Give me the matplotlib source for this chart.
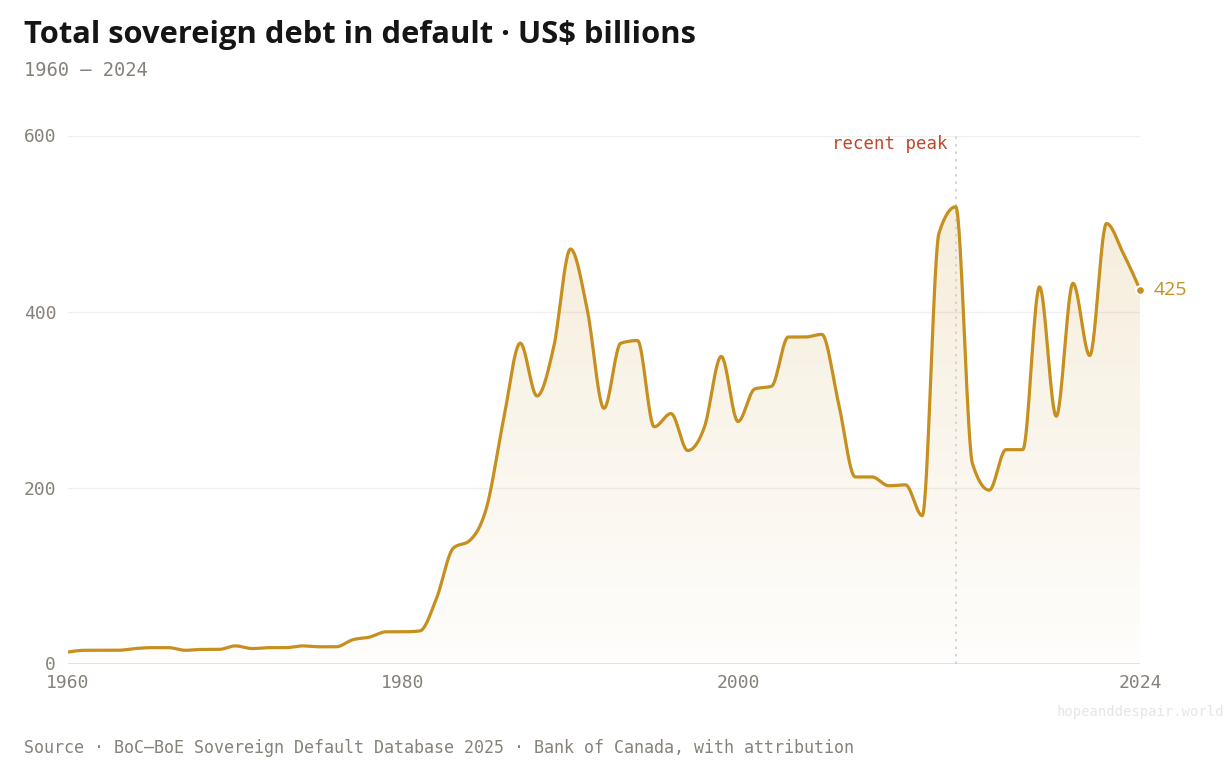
import numpy as np
import matplotlib
matplotlib.use("Agg")
import matplotlib.pyplot as plt
from matplotlib.colors import to_rgb

years = list(range(1960, 2025))
debt = [13, 15, 15, 15, 17, 18, 18, 15, 16, 16,
        20, 17, 18, 18, 20, 19, 19, 27, 30, 36,
        36, 37, 74, 131, 140, 178, 277, 364, 304, 360,
        471, 402, 290, 364, 367, 269, 284, 242, 269, 349,
        275, 312, 315, 371, 371, 374, 296, 212, 212, 202,
        203, 168, 489, 519, 227, 197, 243, 243, 428, 281,
        432, 350, 500, 466, 425]

peak_year = 2013
x_ticks = [1960, 1980, 2000, 2024]
y_ticks = [0, 200, 400, 600]

LINE = "#c68f1e"
GREY = "#86817a"
MONO = "DejaVu Sans Mono"
SANS = "Open Sans"


def monotone_x(x, y, n=30):
    # same idea as d3.curveMonotoneX
    x = np.asarray(x, float)
    y = np.asarray(y, float)
    h = np.diff(x)
    s = np.diff(y) / h
    t = np.zeros_like(y)
    for i in range(1, len(x) - 1):
        p = (s[i - 1] * h[i] + s[i] * h[i - 1]) / (h[i - 1] + h[i])
        t[i] = (np.sign(s[i - 1]) + np.sign(s[i])) * min(abs(s[i - 1]), abs(s[i]), 0.5 * abs(p))
    t[0] = (3 * s[0] - t[1]) / 2
    t[-1] = (3 * s[-1] - t[-2]) / 2
    xs, ys = [], []
    for i in range(len(x) - 1):
        u = np.linspace(0, 1, n, endpoint=False)
        h00 = 2 * u**3 - 3 * u**2 + 1
        h10 = u**3 - 2 * u**2 + u
        h01 = -2 * u**3 + 3 * u**2
        h11 = u**3 - u**2
        xs.append(x[i] + u * h[i])
        ys.append(h00 * y[i] + h10 * h[i] * t[i] + h01 * y[i + 1] + h11 * h[i] * t[i + 1])
    xs.append([x[-1]])
    ys.append([y[-1]])
    return np.concatenate(xs), np.concatenate(ys)


W, H = 1227, 771
fig = plt.figure(figsize=(W / 100, H / 100), dpi=100)
fig.patch.set_facecolor("white")
ax = fig.add_axes([68 / W, 1 - 663.5 / H, (1140 - 68) / W, 528 / H])
ax.set_xlim(1960, 2024)
ax.set_ylim(0, 600)
ax.set_facecolor("none")

cx, cy = monotone_x(years, debt)

# gradient area under the line
poly = ax.fill_between(cx, cy, 0, color="none", lw=0)
top = max(debt)
rgb = to_rgb(LINE)
grad = np.zeros((256, 2, 4))
grad[..., :3] = rgb
grad[..., 3] = np.linspace(0.16, 0.015, 256)[:, None]
img = ax.imshow(grad, extent=[1960, 2024, 0, top], origin="upper",
                aspect="auto", zorder=1, interpolation="bilinear")
img.set_clip_path(poly.get_paths()[0], transform=ax.transData)

ax.plot(cx, cy, color=LINE, lw=2.3, zorder=3, solid_capstyle="round")
ax.scatter([years[-1]], [debt[-1]], s=40, color=LINE, edgecolor="white",
           linewidth=1.5, zorder=4, clip_on=False)
ax.text(years[-1] + 0.8, debt[-1], str(debt[-1]), color=LINE, fontsize=14,
        family=SANS, va="center", ha="left")

# grid
for v in y_ticks[1:]:
    ax.axhline(v, color="#efefef", lw=1, zorder=0)
ax.axhline(0, color="#dcdcdc", lw=1.2, zorder=2)

# recent peak marker
ax.axvline(peak_year, color="#cfcfcf", lw=1.2, ls=(0, (1.5, 3)), zorder=2)
ax.text(peak_year - 0.5, 590, "recent peak", color="#c0462a", family=MONO,
        fontsize=12.5, ha="right", va="center")

for s in ax.spines.values():
    s.set_visible(False)
ax.set_xticks(x_ticks)
ax.set_xticklabels([str(v) for v in x_ticks])
ax.set_yticks(y_ticks)
ax.set_yticklabels([str(v) for v in y_ticks])
ax.tick_params(length=0, colors=GREY, labelsize=13)
ax.tick_params(axis="x", pad=7.5)
ax.tick_params(axis="y", pad=8.5)
for lab in ax.get_xticklabels() + ax.get_yticklabels():
    lab.set_family(MONO)

fig.text(24 / W, 1 - 35 / H, "Total sovereign debt in default · US$ billions",
         fontsize=22.2, fontweight="bold", family=SANS, color="#151515",
         ha="left", va="center")
fig.text(24 / W, 1 - 71 / H, "1960 – 2024", fontsize=13.5, family=MONO,
         color=GREY, ha="left", va="center")
fig.text(24 / W, 1 - 748 / H,
         "Source · BoC–BoE Sovereign Default Database 2025 · Bank of Canada, with attribution",
         fontsize=12, family=MONO, color=GREY, ha="left", va="center")
fig.text(1224 / W, 1 - 712 / H, "hopeanddespair.world", fontsize=10,
         family=MONO, color="#e6e6e6", ha="right", va="center")

fig.savefig("out.png", dpi=100)
